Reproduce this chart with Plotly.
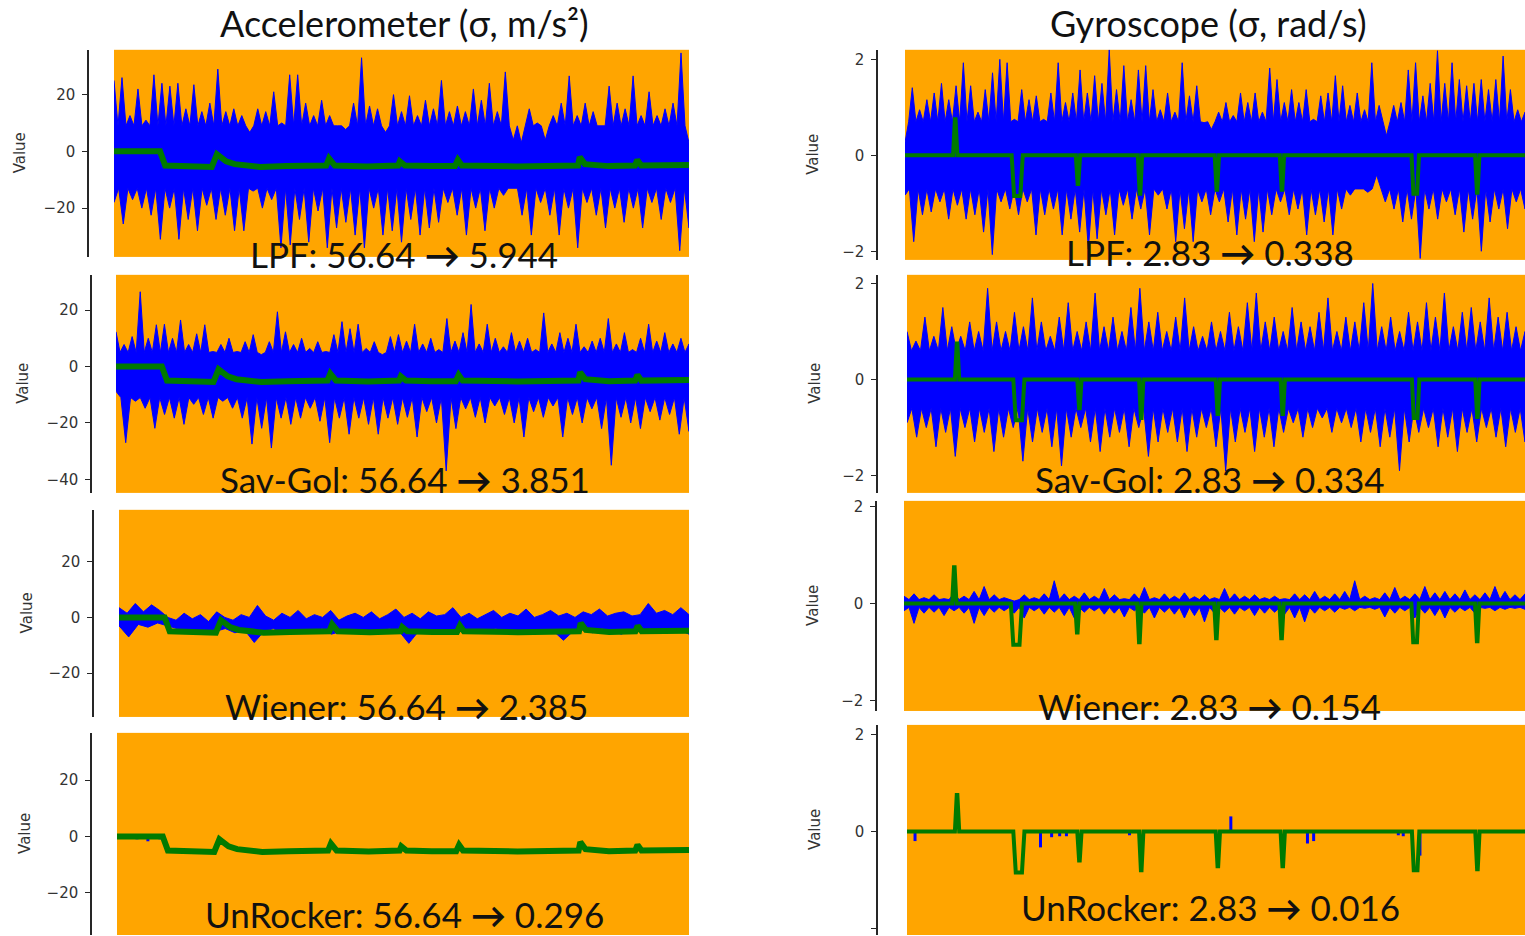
import numpy as np
import plotly.graph_objects as go

W, H = 1525, 936

# ---------------- DATA ----------------
col_titles = ["Accelerometer (σ, m/s²)", "Gyroscope (σ, rad/s)"]
methods = ["LPF", "Sav-Gol", "Wiener", "UnRocker"]
acc_sigma_raw = "56.64"
acc_sigma_out = ["5.944", "3.851", "2.385", "0.296"]
gyr_sigma_raw = "2.83"
gyr_sigma_out = ["0.338", "0.334", "0.154", "0.016"]

acc_ticks = [20, 0, -20]
acc_ticks_sg = [20, 0, -20, -40]
gyr_ticks = [2, 0, -2]

# reference (green) signal, accelerometer, time in % of record
acc_green_t = [0, 8.0, 8.9, 12, 17.0, 17.9, 19.5, 21, 25.4, 30, 36.9, 37.4, 38.4, 44, 49.4,
               49.7, 50.6, 55, 59.3, 59.8, 60.5, 70, 80.7, 81.0, 81.9, 86, 90.6, 91.0, 91.7, 100]
acc_green_v = [0, 0, -5, -5.3, -5.5, -1, -3.5, -4.5, -5.5, -5.2, -5, -2.5, -5, -5.3, -5,
               -3.5, -5, -5.2, -5.2, -3, -5, -5.3, -5, -2, -4.5, -5.2, -5, -3, -5, -4.8]

# gyroscope reference events (time %, depth)
gyr_event_t = [8.1, 18.1, 27.9, 37.9, 50.3, 60.8, 82.3, 92.3]
gyr_event_v = [0.75, -0.85, -0.6, -0.8, -0.72, -0.72, -0.8, -0.78]
gyr_event_hw = [0.35, 0.9, 0.35, 0.35, 0.35, 0.35, 0.6, 0.35]
gyr_event_flat = [0.05, 0.5, 0.05, 0.05, 0.05, 0.05, 0.3, 0.05]

# noisy (blue) signal envelopes
acc_lpf_up = [25, 26, 12.6, 22, 11, 27, 24, 23, 24, 15, 23.5, 14, 17, 29, 14, 15, 12.6, 6.7, 15, 14,
              21, 10, 27, 27, 17, 12.6, 18, 12.6, 9, 7.7, 17, 33, 16, 15, 6.7, 20, 14, 19.6, 12.6,
              18, 15, 25, 14, 16, 14, 22, 18, 24, 14, 28, 4, 3, 15, 10, 4, 12.6, 17, 26.6, 12.6,
              17, 14, 9, 23, 17, 15, 26.6, 12.6, 21, 12.6, 15, 17, 34.7, 3]
acc_lpf_lo = [-18, -25.6, -17, -20, -22.5, -31, -20, -31, -24, -28, -19, -24, -22.5, -28, -28, -14,
              -20, -17, -34, -33, -24, -32, -21, -34, -27, -25, -29.5, -34, -20, -29.5, -28, -32,
              -24, -29.5, -27, -25, -18, -22.5, -29.5, -20, -28, -20, -15.5, -13, -22.5, -29.5,
              -18, -22.5, -29.5, -20, -34, -18, -22.5, -27, -20, -25, -20, -27, -18, -24, -18,
              -35, -27]
acc_lpf_core = [9, -13]

acc_sg_up = [12.3, 7.8, 10.6, 26.5, 10, 14.8, 15, 10, 16.5, 7.8, 11.6, 14.8, 5.3, 7.8, 10, 5.3,
             8.8, 11.3, 4.2, 8.8, 19.4, 12.3, 7.8, 10, 6.4, 8.8, 5.3, 11.3, 15.9, 13.4, 15, 6.4,
             8.8, 4.2, 10.6, 11.3,
             9, 15, 8, 10, 6, 17, 9, 12, 22, 8, 15, 10, 7, 12, 9, 10, 6, 19, 8, 12, 10, 15, 7,
             9, 10, 17, 8, 12, 6, 10, 15, 9, 12, 8, 10, 8]
acc_sg_lo = [-8.8, -27, -12.3, -14.8, -21.9, -17, -18.3, -20.5, -13.4, -17, -18.3, -12.3, -14.8,
             -18.3, -27.5, -21.9, -28.9, -18.3, -20.5, -18.3, -14.8, -19.4, -27, -18.3, -24,
             -18.3, -20.5, -24, -18.3, -20.5,
             -18, -25, -16, -20, -37, -22, -15, -18, -20, -14, -17, -20, -25, -16, -18, -14,
             -25, -17, -20, -15, -22, -35, -18, -20, -22, -16, -19, -17, -24, -23]
acc_sg_core = [5, -11]

acc_wn_up = [3.5, 1.5, 5, 2, 4.5, 2.5, 0, -1, 1.5, -0.5, 1, -1.5, 2, 0, -1, 1, 0, 4.3, 0.5, -1,
             1.5, 0, 2.5, -0.5, 1, 0, 2.5, -1, 0.5, 1.5, 0, 2, -0.5, 1, 3, 0, 1.5, -0.5, 2, 0.5,
             1, 3.5, 0, 1.5, -0.5, 1, 2.5, 0, 1.5, 0.5, 3, 0, 1, 2.5, 0.5, 1.5, 0, 2, 1, 3, 0.5,
             1.5, 2, 0.5, 1, 5, 1.5, 2.5, 1, 3.5, 1]
acc_wn_lo = [-3, -7, -2.5, -3.5, -2, -3, -4, -5, -4.5, -6, -5, -4, -5.5, -4.5, -9, -5, -4, -6,
             -5, -4.5, -5.5, -4, -6, -5, -4.5, -5.5, -4.5, -5, -4, -5, -9.3, -5, -4.5, -6, -5,
             -4, -5.5, -4.5, -5, -4, -5.5, -4.5, -5, -6, -4.5, -5, -8.2, -5, -4.5, -5.5, -4, -5,
             -6, -4.5, -5, -4, -5.5, -5, -4.5, -6]

acc_ur_dip_t = [3.5, 5.4, 7.5]
acc_ur_dip_v = [-1.0, -1.7, -1.0]

gyr_lpf_up = [0.27, 1.41, 0.95, 1.16, 1.3, 1.5, 1.16, 1.45, 1.93, 1.45, 0.9, 1.37, 1.72, 2.0, 1.93,
              0.75, 1.37, 1.16, 1.24, 0.75, 1.3, 1.93, 1.1, 1.3, 1.78, 1.3, 1.66, 1.5, 2.2, 1.37,
              1.87, 1.16, 1.78, 1.87, 1.37, 0.95, 1.3, 0.9, 1.93, 1.24, 1.45, 0.68, 0.54, 0.9,
              1.1, 0.83, 1.3, 1.1, 1.3, 0.9, 1.82, 1.58, 1.1, 1.37, 1.1, 1.37, 0.75, 1.24, 1.3,
              1.66, 1.45, 1.04, 1.3, 0.95, 1.93, 1.04, 0.41, 1.04, 1.1, 1.78, 1.93, 1.24, 1.5,
              2.18, 1.5, 1.93, 1.58, 1.45, 1.5, 1.58, 1.37, 1.58, 2.07, 1.37, 0.95, 0.9]
gyr_lpf_lo = [-0.83, -1.8, -1.24, -1.18, -0.97, -1.33, -1.04, -1.33, -1.24, -1.6, -2.07, -0.97,
              -1.12, -1.24, -0.97, -1.66, -1.24, -1.12, -1.66, -1.33, -1.6, -1.95, -1.74, -1.24,
              -1.66, -1.04, -1.33, -1.12, -1.66, -0.83, -1.12, -1.8, -1.53, -1.8, -0.97, -1.24,
              -0.97, -1.39, -1.66, -1.33, -1.8, -1.6, -1.24, -0.97, -1.24, -1.12, -1.66, -1.24,
              -1.39, -1.66, -1.12, -0.83, -0.7, -0.77, -0.41, -0.97, -1.12, -1.39, -1.33, -2.15,
              -1.12, -1.33, -0.97, -1.24, -1.6, -1.33, -2.0, -1.39, -1.12, -1.53, -0.97, -1.12]
gyr_lpf_core = [0.7, -0.7]

gyr_sg_up = [1.0, 0.8, 1.3, 0.9, 1.5, 1.1, 0.9, 1.2, 1.0, 1.9, 1.2, 1.0, 1.4, 1.1, 1.7, 1.2, 0.9,
             1.3, 1.6, 1.0, 1.2, 1.8, 1.1, 1.3, 1.0, 1.5, 1.9, 1.2, 1.4, 1.0, 1.3, 1.7, 1.1, 0.9,
             1.2, 1.0, 1.4, 1.1, 1.6, 1.8, 1.2, 1.3, 1.0, 1.5, 1.2, 1.1, 1.4, 1.7, 1.0, 1.3, 1.2,
             1.6, 2.0, 1.1, 1.3, 1.0, 1.4, 1.2, 1.6, 1.3, 1.8, 1.1, 1.4, 1.5, 1.2, 1.7, 1.3, 1.4,
             1.1, 1.0]
gyr_sg_lo = [-0.9, -1.2, -1.0, -1.4, -1.1, -1.6, -1.0, -1.3, -1.1, -1.5, -1.2, -1.0, -1.7, -1.3,
             -1.1, -1.4, -1.8, -1.2, -1.0, -1.3, -1.5, -1.2, -1.1, -1.4, -1.0, -1.6, -1.3, -1.1,
             -1.3, -1.5, -1.2, -1.0, -1.4, -1.9, -1.3, -1.1, -1.5, -1.2, -1.4, -1.1, -0.9, -1.2,
             -1.0, -0.8, -1.1, -0.9, -1.0, -1.3, -1.1, -1.4, -1.2, -1.9, -1.3, -1.1, -1.0, -1.4,
             -1.2, -1.5, -1.1, -1.3, -1.0, -1.2, -1.4, -1.1, -1.3]
gyr_sg_core = [0.6, -0.6]

gyr_wn_up = [0.15, 0.2, 0.12, 0.18, 0.1, 0.22, 0.15, 0.25, 0.35, 0.18, 0.12, 0.05, 0.18, 0.12,
             0.2, 0.47, 0.2, 0.15, 0.22, 0.15, 0.31, 0.18, 0.1, 0.2, 0.33, 0.12, 0.2, 0.15, 0.22,
             0.14, 0.18, 0.12, 0.31, 0.2, 0.15, 0.18, 0.12, 0.15, 0.1, 0.2, 0.18, 0.25, 0.15,
             0.2, 0.25, 0.47, 0.15, 0.12, 0.22, 0.33, 0.15, 0.2, 0.35, 0.22, 0.25, 0.2, 0.28,
             0.18, 0.22, 0.35, 0.25, 0.18, 0.2]
gyr_wn_lo = [-0.15, -0.41, -0.2, -0.18, -0.25, -0.15, -0.2, -0.41, -0.25, -0.18, -0.15, -0.2,
             -0.3, -0.15, -0.22, -0.18, -0.25, -0.3, -0.18, -0.15, -0.22, -0.2, -0.28, -0.15,
             -0.2, -0.3, -0.18, -0.22, -0.3, -0.25, -0.38, -0.2, -0.18, -0.22, -0.15, -0.25,
             -0.2, -0.18, -0.22, -0.3, -0.38, -0.2, -0.15, -0.18, -0.12, -0.15, -0.1, -0.12,
             -0.28, -0.2, -0.15, -0.3, -0.2, -0.25, -0.3, -0.18, -0.15, -0.2, -0.1, -0.15,
             -0.12, -0.1, -0.12]
gyr_wn_core = [0.08, -0.08]

gyr_ur_spike_t = [1.3, 21.6, 23.4, 24.7, 25.8, 36.0, 50.5, 52.4, 64.8, 65.8, 79.5, 80.3, 83.0]
gyr_ur_spike_v = [-0.2, -0.33, -0.12, -0.1, -0.1, -0.08, -0.3, 0.31, -0.25, -0.2, -0.08, -0.1, -0.5]

# ---------------- LAYOUT (pixel geometry) ----------------
panels = [
    dict(x=(114, 689), y=(47, 255), sp=88, yr=(-37.2, 35.8), tk=acc_ticks, vx=20),
    dict(x=(116, 689), y=(273, 492), sp=91, yr=(-44.8, 32.5), tk=acc_ticks_sg, vx=23),
    dict(x=(119, 689), y=(509, 717), sp=93, yr=(-35.7, 38.6), tk=acc_ticks, vx=27),
    dict(x=(117, 689), y=(733, 936), sp=91, yr=(-34.9, 36.7), tk=acc_ticks, vx=25),
    dict(x=(905, 1525), y=(47, 258), sp=877, yr=(-2.18, 2.2), tk=gyr_ticks, vx=813),
    dict(x=(907, 1525), y=(273, 492), sp=877, yr=(-2.36, 2.18), tk=gyr_ticks, vx=815),
    dict(x=(904, 1525), y=(500, 711), sp=876, yr=(-2.22, 2.12), tk=gyr_ticks, vx=813),
    dict(x=(907, 1525), y=(725, 936), sp=877, yr=(-2.14, 2.2), tk=gyr_ticks, vx=815),
]
label_pos = [(404, 252), (405, 478), (406, 706), (405, 915),
             (1210, 250), (1210, 478), (1209, 706), (1210, 908)]
title_pos = [(405, 20), (1208, 20)]

BLUE = "#0000FF"
GREEN = "#007A00"
ORANGE = "#FFA500"
BIGFONT = "Lato, 'Open Sans', sans-serif"


def edge(vals, core):
    t = np.linspace(0, 100, len(vals))
    xs, ys = [], []
    for i, v in enumerate(vals):
        xs.append(t[i]); ys.append(v)
        if i < len(vals) - 1:
            xs.append((t[i] + t[i + 1]) / 2); ys.append(core)
    return xs, ys


def band(up, lo, core):
    ux, uy = edge(up, core[0])
    lx, ly = edge(lo, core[1])
    return ux + lx[::-1], uy + ly[::-1]


def band_plain(up, lo):
    tu = list(np.linspace(0, 100, len(up)))
    tl = list(np.linspace(0, 100, len(lo)))
    return tu + tl[::-1], list(up) + list(lo)[::-1]


def gyr_green():
    xs, ys = [0], [0]
    for t, v, hw, fl in zip(gyr_event_t, gyr_event_v, gyr_event_hw, gyr_event_flat):
        xs += [t - hw, t - fl, t + fl, t + hw]
        ys += [0, v, v, 0]
    xs.append(100); ys.append(0)
    return xs, ys


fig = go.Figure()


def ax(i):
    return ("x" if i == 0 else f"x{i+1}"), ("y" if i == 0 else f"y{i+1}")


def add_band(i, xs, ys):
    xa, ya = ax(i)
    fig.add_trace(go.Scatter(x=xs, y=ys, mode="lines", fill="toself", fillcolor=BLUE,
                             line=dict(color=BLUE, width=1), xaxis=xa, yaxis=ya,
                             hoverinfo="skip"))


def add_line(i, xs, ys, color, width):
    xa, ya = ax(i)
    fig.add_trace(go.Scatter(x=xs, y=ys, mode="lines", line=dict(color=color, width=width),
                             xaxis=xa, yaxis=ya, hoverinfo="skip", connectgaps=False))


# accelerometer panels
add_band(0, *band(acc_lpf_up, acc_lpf_lo, acc_lpf_core))
add_line(0, acc_green_t, acc_green_v, GREEN, 6)
add_band(1, *band(acc_sg_up, acc_sg_lo, acc_sg_core))
add_line(1, acc_green_t, acc_green_v, GREEN, 6)
add_band(2, *band_plain(acc_wn_up, acc_wn_lo))
add_line(2, acc_green_t, acc_green_v, GREEN, 6)
dx, dy = [], []
for t, v in zip(acc_ur_dip_t, acc_ur_dip_v):
    dx += [t, t, None]; dy += [0, v, None]
add_line(3, dx, dy, BLUE, 3)
add_line(3, acc_green_t, acc_green_v, GREEN, 6)

# gyroscope panels
gx, gy = gyr_green()
add_band(4, *band(gyr_lpf_up, gyr_lpf_lo, gyr_lpf_core))
add_line(4, gx, gy, GREEN, 4)
add_band(5, *band(gyr_sg_up, gyr_sg_lo, gyr_sg_core))
add_line(5, gx, gy, GREEN, 4)
add_band(6, *band(gyr_wn_up, gyr_wn_lo, gyr_wn_core))
add_line(6, gx, gy, GREEN, 4)
sx, sy = [], []
for t, v in zip(gyr_ur_spike_t, gyr_ur_spike_v):
    sx += [t, t, None]; sy += [0, v, None]
add_line(7, sx, sy, BLUE, 3)
add_line(7, gx, gy, GREEN, 4)

layout = dict(width=W, height=H, margin=dict(l=0, r=0, t=0, b=0),
              paper_bgcolor="white", plot_bgcolor=ORANGE, showlegend=False)


def fmt(v):
    return str(v).replace("-", "\u2212")


annotations = []
for i, p in enumerate(panels):
    xa, ya = ax(i)
    kx = "xaxis" if i == 0 else f"xaxis{i+1}"
    ky = "yaxis" if i == 0 else f"yaxis{i+1}"
    layout[kx] = dict(domain=[p["x"][0] / W, min(1.0, p["x"][1] / W)], range=[0, 100],
                      visible=False, anchor=ya, fixedrange=True)
    layout[ky] = dict(domain=[max(0.0, 1 - p["y"][1] / H), 1 - p["y"][0] / H],
                      range=list(p["yr"]), anchor="free", position=p["sp"] / W,
                      showline=True, linecolor="#262626", linewidth=1.5,
                      ticks="outside", ticklen=5, tickwidth=1.2, tickcolor="#262626",
                      ticklabelstandoff=4,
                      tickvals=p["tk"], ticktext=[fmt(v) for v in p["tk"]],
                      tickfont=dict(family="DejaVu Sans", size=15, color="#333333"),
                      showgrid=False, zeroline=False, fixedrange=True)
    annotations.append(dict(text="Value", x=p["vx"] / W, y=1 - (p["y"][0] + p["y"][1]) / 2 / H,
                            xref="paper", yref="paper", showarrow=False, textangle=-90,
                            xanchor="center", yanchor="middle",
                            font=dict(family="DejaVu Sans", size=15, color="#333333")))

for i in range(8):
    if i < 4:
        txt = f"{methods[i]}: {acc_sigma_raw} <b>→</b> {acc_sigma_out[i]}"
    else:
        txt = f"{methods[i-4]}: {gyr_sigma_raw} <b>→</b> {gyr_sigma_out[i-4]}"
    px, py = label_pos[i]
    annotations.append(dict(text=txt, x=px / W, y=1 - py / H, xref="paper", yref="paper",
                            showarrow=False, xanchor="center", yanchor="middle",
                            font=dict(family=BIGFONT, size=35, color="#111111")))

for j, t in enumerate(col_titles):
    px, py = title_pos[j]
    annotations.append(dict(text=t, x=px / W, y=1 - py / H, xref="paper", yref="paper",
                            showarrow=False, xanchor="center", yanchor="middle",
                            font=dict(family=BIGFONT, size=36, color="#111111")))

layout["annotations"] = annotations
fig.update_layout(**layout)
fig.write_html("out.html")
